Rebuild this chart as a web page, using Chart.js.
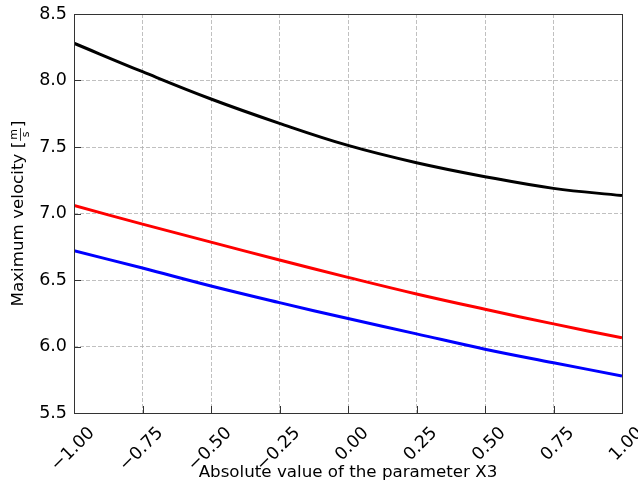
<!DOCTYPE html>
<html>
<head>
<meta charset="utf-8">
<script src="https://cdn.jsdelivr.net/npm/chart.js@4.4.1/dist/chart.umd.min.js"></script>
<style>
  html, body { margin: 0; padding: 0; background: #fff; }
  #wrap { width: 638px; height: 497px; }
</style>
</head>
<body>
<div id="wrap"><canvas id="chart" width="638" height="497"></canvas></div>
<script>
// data
const xValues = [-1, -0.75, -0.5, -0.25, 0, 0.25, 0.5, 0.75, 1];
const blackSeries = [8.28, 8.066, 7.861, 7.678, 7.512, 7.382, 7.277, 7.189, 7.135];
const redSeries = [7.06, 6.92, 6.785, 6.65, 6.52, 6.395, 6.28, 6.17, 6.065];
const blueSeries = [6.72, 6.59, 6.455, 6.33, 6.21, 6.095, 5.98, 5.878, 5.778];

const xTicks = [-1, -0.75, -0.5, -0.25, 0, 0.25, 0.5, 0.75, 1];
const yTicks = [5.5, 6.0, 6.5, 7.0, 7.5, 8.0, 8.5];

const xTitle = 'Absolute value of the parameter X3';
const yTitle = 'Maximum velocity [';
const yUnitTop = 'm';
const yUnitBottom = 's';

const FONT = "'DejaVu Sans', 'Liberation Sans', sans-serif";
const TICK_SIZE = 17.5;
const TITLE_SIZE = 16.7;

// minus sign like matplotlib
function fmt(v, digits) {
  return v.toFixed(digits).replace('-', '\u2212');
}

function points(ys) {
  return xValues.map((x, i) => ({ x: x, y: ys[i] }));
}

// frame round the plot + short ticks pointing inwards
const frameAndTicks = {
  id: 'frameAndTicks',
  afterDatasetsDraw(chart) {
    const ctx = chart.ctx;
    const a = chart.chartArea;
    const sx = chart.scales.x;
    const sy = chart.scales.y;
    ctx.save();
    ctx.strokeStyle = '#333';
    ctx.lineWidth = 1;
    ctx.beginPath();
    xTicks.forEach(v => {
      const px = Math.round(sx.getPixelForValue(v)) + 0.5;
      ctx.moveTo(px, a.bottom);
      ctx.lineTo(px, a.bottom - 7);
    });
    yTicks.forEach(v => {
      const py = Math.round(sy.getPixelForValue(v)) + 0.5;
      ctx.moveTo(a.left, py);
      ctx.lineTo(a.left + 7, py);
    });
    ctx.stroke();
    ctx.strokeRect(Math.round(a.left) + 0.5, Math.round(a.top) + 0.5,
      Math.round(a.right - a.left), Math.round(a.bottom - a.top));
    ctx.restore();
  }
};

// y title with the small m/s fraction
const yTitlePlugin = {
  id: 'yTitlePlugin',
  afterDraw(chart) {
    const ctx = chart.ctx;
    const a = chart.chartArea;
    ctx.save();
    ctx.font = TITLE_SIZE + 'px ' + FONT;
    const w1 = ctx.measureText(yTitle).width;
    ctx.font = '11px ' + FONT;
    const wf = Math.max(ctx.measureText(yUnitTop).width, ctx.measureText(yUnitBottom).width) + 2;
    ctx.font = TITLE_SIZE + 'px ' + FONT;
    const w2 = ctx.measureText(']').width;
    const total = w1 + wf + 2 + w2;
    ctx.translate(19, (a.top + a.bottom) / 2);
    ctx.rotate(-Math.PI / 2);
    ctx.fillStyle = '#000';
    ctx.textBaseline = 'middle';
    ctx.textAlign = 'left';
    let x = -total / 2;
    ctx.fillText(yTitle, x, 0);
    x += w1 + 1;
    ctx.font = '11px ' + FONT;
    ctx.textAlign = 'center';
    ctx.fillText(yUnitTop, x + wf / 2, -5);
    ctx.fillText(yUnitBottom, x + wf / 2, 7);
    ctx.fillRect(x, 1, wf, 0.8);
    x += wf + 1;
    ctx.font = TITLE_SIZE + 'px ' + FONT;
    ctx.textAlign = 'left';
    ctx.fillText(']', x, 0);
    ctx.restore();
  }
};

const gridStyle = {
  color: '#b0b0b0',
  lineWidth: 0.8,
  drawTicks: false
};

new Chart(document.getElementById('chart'), {
  type: 'line',
  data: {
    datasets: [
      { data: points(blackSeries), borderColor: '#000000', borderWidth: 3 },
      { data: points(redSeries), borderColor: '#ff0000', borderWidth: 3 },
      { data: points(blueSeries), borderColor: '#0000ff', borderWidth: 3 }
    ]
  },
  options: {
    responsive: false,
    animation: false,
    layout: { padding: { top: 14, right: 16, left: 0, bottom: 0 } },
    elements: {
      point: { radius: 0 },
      line: { tension: 0.4, fill: false }
    },
    plugins: {
      legend: { display: false },
      tooltip: { enabled: false }
    },
    scales: {
      x: {
        type: 'linear',
        min: -1,
        max: 1,
        afterBuildTicks: s => { s.ticks = xTicks.map(v => ({ value: v })); },
        afterFit: s => { s.height = 84; s.paddingLeft = 0; s.paddingRight = 0; },
        grid: gridStyle,
        border: { display: false, dash: [4, 2] },
        ticks: {
          autoSkip: false,
          minRotation: 45,
          maxRotation: 45,
          padding: 10,
          labelOffset: 18,
          color: '#000',
          font: { family: FONT, size: TICK_SIZE },
          callback: v => fmt(v, 2)
        },
        title: {
          display: true,
          text: xTitle,
          color: '#000',
          font: { family: FONT, size: TITLE_SIZE },
          padding: { top: 0, bottom: 14 }
        }
      },
      y: {
        type: 'linear',
        min: 5.5,
        max: 8.5,
        afterBuildTicks: s => { s.ticks = yTicks.map(v => ({ value: v })); },
        afterFit: s => { s.width = 74; s.paddingTop = 0; s.paddingBottom = 0; },
        grid: gridStyle,
        border: { display: false, dash: [4, 2] },
        ticks: {
          padding: 7,
          color: '#000',
          font: { family: FONT, size: TICK_SIZE },
          callback: v => fmt(v, 1)
        }
      }
    }
  },
  plugins: [frameAndTicks, yTitlePlugin]
});
</script>
</body>
</html>
